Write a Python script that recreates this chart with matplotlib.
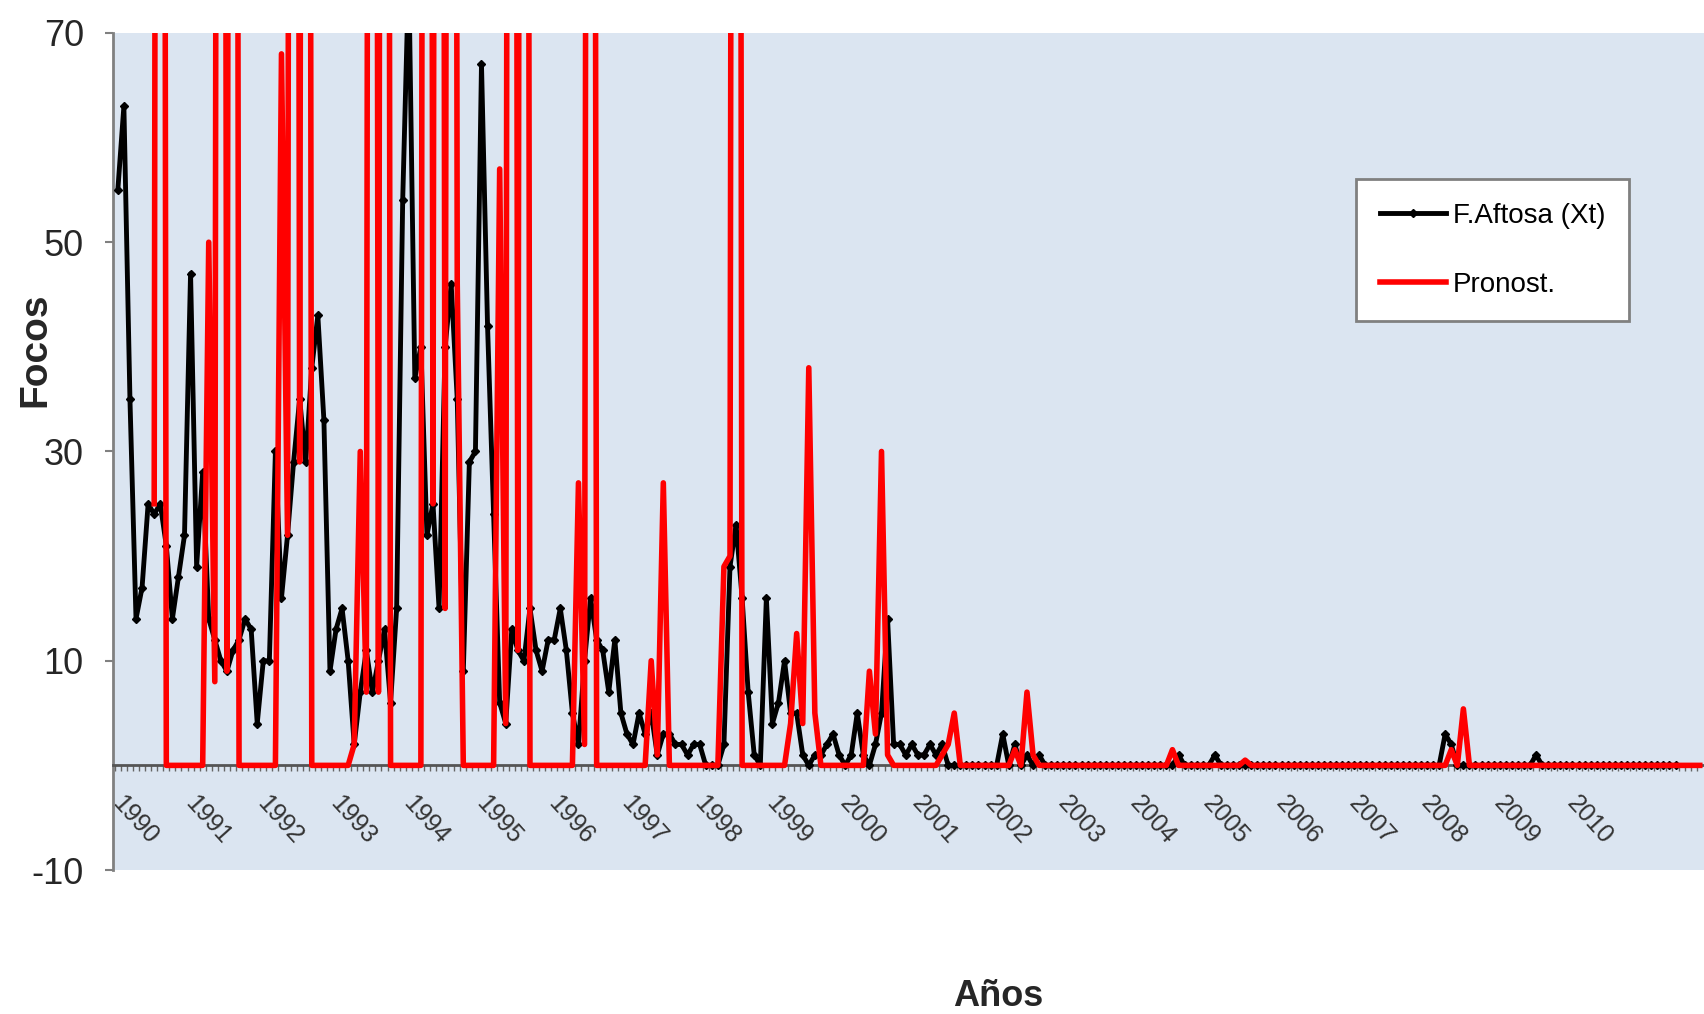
import numpy as np
import matplotlib.pyplot as plt
from matplotlib.ticker import FixedLocator

plt.rcParams['font.family'] = ['Liberation Sans', 'DejaVu Sans']
plt.rcParams['axes.unicode_minus'] = False

# monthly values, Jan 1990 onward (one row per year)
focos = [
    55, 63, 35, 14, 17, 25, 24, 25, 21, 14, 18, 22,   # 1990
    47, 19, 28, 14, 12, 10, 9, 11, 12, 14, 13, 4,     # 1991
    10, 10, 30, 16, 22, 29, 35, 29, 38, 43, 33, 9,    # 1992
    13, 15, 10, 2, 7, 11, 7, 10, 13, 6, 15, 54,       # 1993
    76, 37, 40, 22, 25, 15, 40, 46, 35, 9, 29, 30,    # 1994
    67, 42, 24, 6, 4, 13, 11, 10, 15, 11, 9, 12,      # 1995
    12, 15, 11, 5, 2, 10, 16, 12, 11, 7, 12, 5,       # 1996
    3, 2, 5, 3, 5, 1, 3, 3, 2, 2, 1, 2,               # 1997
    2, 0, 0, 0, 2, 19, 23, 16, 7, 1, 0, 16,           # 1998
    4, 6, 10, 5, 5, 1, 0, 1, 1, 2, 3, 1,              # 1999
    0, 1, 5, 1, 0, 2, 5, 14, 2, 2, 1, 2,              # 2000
    1, 1, 2, 1, 2, 0, 0, 0, 0, 0, 0, 0,               # 2001
    0, 0, 3, 0, 2, 0, 1, 0, 1, 0, 0, 0,               # 2002
    0, 0, 0, 0, 0, 0, 0, 0, 0, 0, 0, 0,               # 2003
    0, 0, 0, 0, 0, 0, 0, 1, 0, 0, 0, 0,               # 2004
    0, 1, 0, 0, 0, 0, 0, 0, 0, 0, 0, 0,               # 2005
    0, 0, 0, 0, 0, 0, 0, 0, 0, 0, 0, 0,               # 2006
    0, 0, 0, 0, 0, 0, 0, 0, 0, 0, 0, 0,               # 2007
    0, 0, 0, 3, 2, 0, 0, 0, 0, 0, 0, 0,               # 2008
    0, 0, 0, 0, 0, 0, 1, 0, 0, 0, 0, 0,               # 2009
    0, 0, 0, 0, 0, 0, 0, 0, 0, 0, 0, 0,               # 2010
    0, 0, 0, 0, 0, 0,                                 # 2011
]

# forecast; the big spikes run far above the top of the axis
nan = np.nan
pronost = [
    nan, nan, nan, nan, nan, nan, 25, 400, 0, 0, 0, 0,    # 1990
    0, 0, 0, 50, 8, 400, 9, 400, 0, 0, 0, 0,              # 1991
    0, 0, 0, 68, 22, 400, 29, 400, 0, 0, 0, 0,            # 1992
    0, 0, 0, 2, 30, 7, 400, 7, 400, 0, 0, 0,              # 1993
    0, 0, 0, 400, 25, 400, 15, 400, 46, 0, 0, 0,          # 1994
    0, 0, 0, 57, 4, 400, 11, 400, 0, 0, 0, 0,             # 1995
    0, 0, 0, 0, 27, 2, 400, 0, 0, 0, 0, 0,                # 1996
    0, 0, 0, 0, 10, 1, 27, 0, 0, 0, 0, 0,                 # 1997
    0, 0, 0, 0, 19, 20, 400, 0, 0, 0, 0, 0,               # 1998
    0, 0, 0, 4, 12.6, 4, 38, 5, 0, 0, 0, 0,               # 1999
    0, 0, 0, 0, 9, 3, 30, 1, 0, 0, 0, 0,                  # 2000
    0, 0, 0, 0, 1, 2, 5, 0, 0, 0, 0, 0,                   # 2001
    0, 0, 0, 0, 1.5, 0, 7, 1, 0, 0, 0, 0,                 # 2002
    0, 0, 0, 0, 0, 0, 0, 0, 0, 0, 0, 0,                   # 2003
    0, 0, 0, 0, 0, 0, 1.5, 0, 0, 0, 0, 0,                 # 2004
    0, 0, 0, 0, 0, 0, 0.5, 0, 0, 0, 0, 0,                 # 2005
    0, 0, 0, 0, 0, 0, 0, 0, 0, 0, 0, 0,                   # 2006
    0, 0, 0, 0, 0, 0, 0, 0, 0, 0, 0, 0,                   # 2007
    0, 0, 0, 0, 1.5, 0, 5.4, 0, 0, 0, 0, 0,               # 2008
    0, 0, 0, 0, 0, 0, 0, 0, 0, 0, 0, 0,                   # 2009
    0, 0, 0, 0, 0, 0, 0, 0, 0, 0, 0, 0,                   # 2010
    0, 0, 0, 0, 0, 0, 0, 0, 0, 0,                         # 2011
]

years = [str(y) for y in range(1990, 2011)]
y_ticks = [-10, 10, 30, 50, 70]

x1 = np.arange(len(focos))
x2 = np.arange(len(pronost))

fig = plt.figure(figsize=(17.04, 10.14), dpi=100)
ax = fig.add_axes([0.0663, 0.142, 0.9337, 0.8255])
ax.set_facecolor('#dbe5f1')

ax.plot(x1, focos, color='black', lw=3.5, marker='D', ms=4.5, label='F.Aftosa (Xt)', zorder=3)
ax.plot(x2, pronost, color='#ff0000', lw=4, label='Pronost.', zorder=4)

ax.set_xlim(-0.8, 261.7)
ax.set_ylim(-10, 70)

# y axis
ax.set_yticks(y_ticks)
ax.tick_params(axis='y', direction='out', length=6, width=1.5, color='#808080',
               labelsize=26, labelcolor='#262626', pad=15)
ax.spines['left'].set_color('#808080')
ax.spines['left'].set_linewidth(2)
ax.spines['top'].set_visible(False)
ax.spines['right'].set_visible(False)

# x axis crossing at zero, year labels slanted below it
ax.spines['bottom'].set_position(('data', 0))
ax.spines['bottom'].set_color('#555555')
ax.spines['bottom'].set_linewidth(2)
ax.xaxis.set_major_locator(FixedLocator([12 * k + 1.2 for k in range(len(years))]))
ax.xaxis.set_minor_locator(FixedLocator(np.arange(len(pronost)) - 0.5))
ax.set_xticklabels(years, rotation=-48, ha='left', va='top', rotation_mode='anchor')
ax.tick_params(axis='x', which='minor', direction='out', length=4, width=1, color='#666666')
ax.tick_params(axis='x', which='major', length=0, labelsize=18, labelcolor='#333333', pad=19)

fig.text(35 / 1704, 1 - 350 / 1014, 'Focos', rotation=90, ha='center', va='center',
         fontsize=28, fontweight='bold', color='#262626')
fig.text(998 / 1704, 1 - 996 / 1014, 'Años', ha='center', va='center',
         fontsize=26, fontweight='bold', color='#262626')

leg = ax.legend(loc='upper left', bbox_to_anchor=(1356 / 1704, 1 - 179 / 1014),
                bbox_transform=fig.transFigure, borderaxespad=0, fontsize=20,
                frameon=True, fancybox=False, framealpha=1, edgecolor='#808080',
                handlelength=2.4, handletextpad=0.25, labelspacing=1.55,
                borderpad=0.85)
leg.get_frame().set_linewidth(2)

fig.savefig('out.png', dpi=100)
